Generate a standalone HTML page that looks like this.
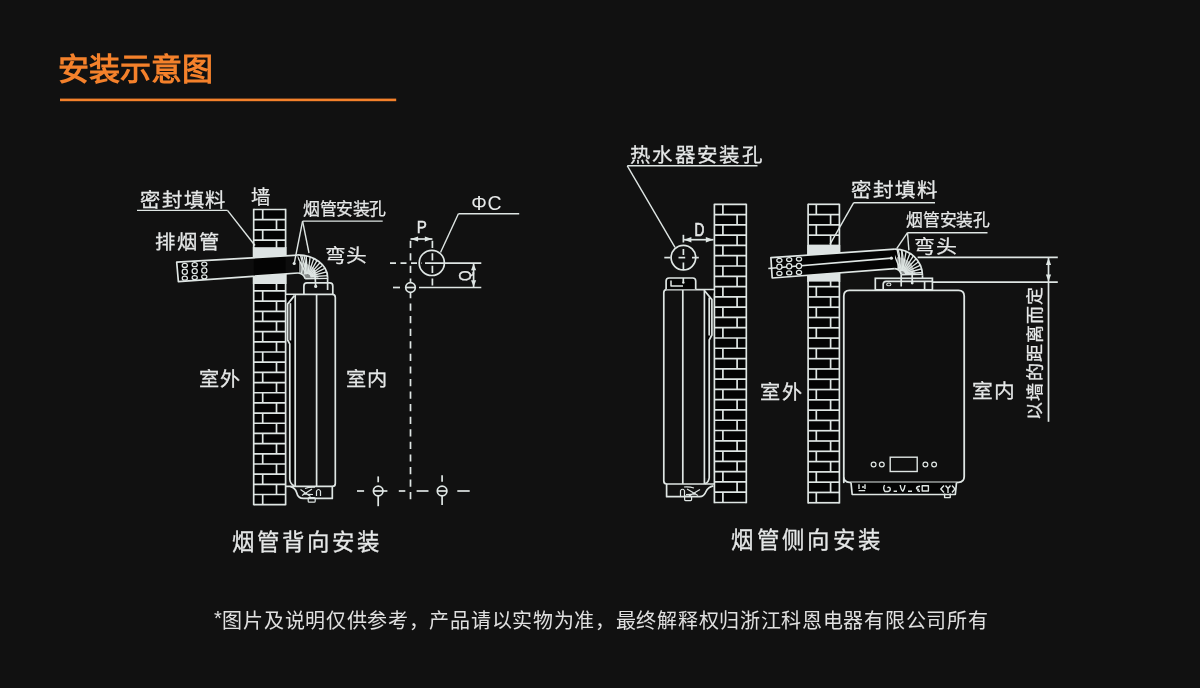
<!DOCTYPE html>
<html lang="zh-CN"><head><meta charset="utf-8">
<style>
html,body{margin:0;padding:0;background:#111111;}
body{width:1200px;height:688px;overflow:hidden;position:relative;will-change:transform;font-family:"Liberation Sans",sans-serif;}
.title{position:absolute;left:58px;top:50px;font-size:31px;font-weight:700;color:#f4812b;line-height:40px;white-space:nowrap;}
.foot{position:absolute;left:214px;top:607px;font-size:20px;color:#e0e0e0;line-height:28px;white-space:nowrap;letter-spacing:0.7px;}
svg{position:absolute;left:0;top:0;will-change:transform;}
svg text{font-family:"Liberation Sans",sans-serif;}
</style></head><body>
<div class="title">安装示意图</div>
<svg width="1200" height="688" viewBox="0 0 1200 688">
<rect x="60" y="98.6" width="336.2" height="2.6" fill="#f4812b"/>
<rect x="253.70" y="209.50" width="31.90" height="295.20" fill="#040404"/>
<line x1="253.70" y1="209.50" x2="285.60" y2="209.50" stroke="#dfe6e4" stroke-width="1.7" />
<line x1="253.70" y1="219.68" x2="285.60" y2="219.68" stroke="#dfe6e4" stroke-width="1.7" />
<line x1="253.70" y1="229.86" x2="285.60" y2="229.86" stroke="#dfe6e4" stroke-width="1.7" />
<line x1="253.70" y1="240.04" x2="285.60" y2="240.04" stroke="#dfe6e4" stroke-width="1.7" />
<line x1="253.70" y1="250.22" x2="285.60" y2="250.22" stroke="#dfe6e4" stroke-width="1.7" />
<line x1="253.70" y1="260.40" x2="285.60" y2="260.40" stroke="#dfe6e4" stroke-width="1.7" />
<line x1="253.70" y1="270.58" x2="285.60" y2="270.58" stroke="#dfe6e4" stroke-width="1.7" />
<line x1="253.70" y1="280.76" x2="285.60" y2="280.76" stroke="#dfe6e4" stroke-width="1.7" />
<line x1="253.70" y1="290.93" x2="285.60" y2="290.93" stroke="#dfe6e4" stroke-width="1.7" />
<line x1="253.70" y1="301.11" x2="285.60" y2="301.11" stroke="#dfe6e4" stroke-width="1.7" />
<line x1="253.70" y1="311.29" x2="285.60" y2="311.29" stroke="#dfe6e4" stroke-width="1.7" />
<line x1="253.70" y1="321.47" x2="285.60" y2="321.47" stroke="#dfe6e4" stroke-width="1.7" />
<line x1="253.70" y1="331.65" x2="285.60" y2="331.65" stroke="#dfe6e4" stroke-width="1.7" />
<line x1="253.70" y1="341.83" x2="285.60" y2="341.83" stroke="#dfe6e4" stroke-width="1.7" />
<line x1="253.70" y1="352.01" x2="285.60" y2="352.01" stroke="#dfe6e4" stroke-width="1.7" />
<line x1="253.70" y1="362.19" x2="285.60" y2="362.19" stroke="#dfe6e4" stroke-width="1.7" />
<line x1="253.70" y1="372.37" x2="285.60" y2="372.37" stroke="#dfe6e4" stroke-width="1.7" />
<line x1="253.70" y1="382.55" x2="285.60" y2="382.55" stroke="#dfe6e4" stroke-width="1.7" />
<line x1="253.70" y1="392.73" x2="285.60" y2="392.73" stroke="#dfe6e4" stroke-width="1.7" />
<line x1="253.70" y1="402.91" x2="285.60" y2="402.91" stroke="#dfe6e4" stroke-width="1.7" />
<line x1="253.70" y1="413.09" x2="285.60" y2="413.09" stroke="#dfe6e4" stroke-width="1.7" />
<line x1="253.70" y1="423.27" x2="285.60" y2="423.27" stroke="#dfe6e4" stroke-width="1.7" />
<line x1="253.70" y1="433.44" x2="285.60" y2="433.44" stroke="#dfe6e4" stroke-width="1.7" />
<line x1="253.70" y1="443.62" x2="285.60" y2="443.62" stroke="#dfe6e4" stroke-width="1.7" />
<line x1="253.70" y1="453.80" x2="285.60" y2="453.80" stroke="#dfe6e4" stroke-width="1.7" />
<line x1="253.70" y1="463.98" x2="285.60" y2="463.98" stroke="#dfe6e4" stroke-width="1.7" />
<line x1="253.70" y1="474.16" x2="285.60" y2="474.16" stroke="#dfe6e4" stroke-width="1.7" />
<line x1="253.70" y1="484.34" x2="285.60" y2="484.34" stroke="#dfe6e4" stroke-width="1.7" />
<line x1="253.70" y1="494.52" x2="285.60" y2="494.52" stroke="#dfe6e4" stroke-width="1.7" />
<line x1="253.70" y1="504.70" x2="285.60" y2="504.70" stroke="#dfe6e4" stroke-width="1.7" />
<line x1="262.70" y1="209.50" x2="262.70" y2="219.68" stroke="#dfe6e4" stroke-width="1.7" />
<line x1="276.50" y1="219.68" x2="276.50" y2="229.86" stroke="#dfe6e4" stroke-width="1.7" />
<line x1="262.70" y1="229.86" x2="262.70" y2="240.04" stroke="#dfe6e4" stroke-width="1.7" />
<line x1="276.50" y1="240.04" x2="276.50" y2="250.22" stroke="#dfe6e4" stroke-width="1.7" />
<line x1="262.70" y1="250.22" x2="262.70" y2="260.40" stroke="#dfe6e4" stroke-width="1.7" />
<line x1="276.50" y1="260.40" x2="276.50" y2="270.58" stroke="#dfe6e4" stroke-width="1.7" />
<line x1="262.70" y1="270.58" x2="262.70" y2="280.76" stroke="#dfe6e4" stroke-width="1.7" />
<line x1="276.50" y1="280.76" x2="276.50" y2="290.93" stroke="#dfe6e4" stroke-width="1.7" />
<line x1="262.70" y1="290.93" x2="262.70" y2="301.11" stroke="#dfe6e4" stroke-width="1.7" />
<line x1="276.50" y1="301.11" x2="276.50" y2="311.29" stroke="#dfe6e4" stroke-width="1.7" />
<line x1="262.70" y1="311.29" x2="262.70" y2="321.47" stroke="#dfe6e4" stroke-width="1.7" />
<line x1="276.50" y1="321.47" x2="276.50" y2="331.65" stroke="#dfe6e4" stroke-width="1.7" />
<line x1="262.70" y1="331.65" x2="262.70" y2="341.83" stroke="#dfe6e4" stroke-width="1.7" />
<line x1="276.50" y1="341.83" x2="276.50" y2="352.01" stroke="#dfe6e4" stroke-width="1.7" />
<line x1="262.70" y1="352.01" x2="262.70" y2="362.19" stroke="#dfe6e4" stroke-width="1.7" />
<line x1="276.50" y1="362.19" x2="276.50" y2="372.37" stroke="#dfe6e4" stroke-width="1.7" />
<line x1="262.70" y1="372.37" x2="262.70" y2="382.55" stroke="#dfe6e4" stroke-width="1.7" />
<line x1="276.50" y1="382.55" x2="276.50" y2="392.73" stroke="#dfe6e4" stroke-width="1.7" />
<line x1="262.70" y1="392.73" x2="262.70" y2="402.91" stroke="#dfe6e4" stroke-width="1.7" />
<line x1="276.50" y1="402.91" x2="276.50" y2="413.09" stroke="#dfe6e4" stroke-width="1.7" />
<line x1="262.70" y1="413.09" x2="262.70" y2="423.27" stroke="#dfe6e4" stroke-width="1.7" />
<line x1="276.50" y1="423.27" x2="276.50" y2="433.44" stroke="#dfe6e4" stroke-width="1.7" />
<line x1="262.70" y1="433.44" x2="262.70" y2="443.62" stroke="#dfe6e4" stroke-width="1.7" />
<line x1="276.50" y1="443.62" x2="276.50" y2="453.80" stroke="#dfe6e4" stroke-width="1.7" />
<line x1="262.70" y1="453.80" x2="262.70" y2="463.98" stroke="#dfe6e4" stroke-width="1.7" />
<line x1="276.50" y1="463.98" x2="276.50" y2="474.16" stroke="#dfe6e4" stroke-width="1.7" />
<line x1="262.70" y1="474.16" x2="262.70" y2="484.34" stroke="#dfe6e4" stroke-width="1.7" />
<line x1="276.50" y1="484.34" x2="276.50" y2="494.52" stroke="#dfe6e4" stroke-width="1.7" />
<line x1="262.70" y1="494.52" x2="262.70" y2="504.70" stroke="#dfe6e4" stroke-width="1.7" />
<line x1="253.70" y1="208.85" x2="253.70" y2="505.35" stroke="#dfe6e4" stroke-width="1.7" />
<line x1="285.60" y1="208.85" x2="285.60" y2="505.35" stroke="#dfe6e4" stroke-width="1.7" />
<rect x="253.7" y="247.2" width="31.9" height="36.8" fill="#dde3e3"/>
<line x1="253.70" y1="247.00" x2="253.70" y2="284.00" stroke="#dfe6e4" stroke-width="1.7" />
<line x1="285.60" y1="247.00" x2="285.60" y2="284.00" stroke="#dfe6e4" stroke-width="1.7" />
<clipPath id="pL"><path d="M176.70,262.20 L298.00,255.20 L298.00,273.00 L178.40,281.70 Z"/></clipPath>
<path d="M176.70,262.20 L298.00,255.20 L298.00,273.00 L178.40,281.70 Z" fill="#0d0d0d"/>
<g clip-path="url(#pL)">
<rect x="170" y="200" width="38" height="120" fill="#040404"/>
<rect x="253.7" y="200" width="31.900000000000034" height="120" fill="#040404"/>
</g>
<path d="M298.00,255.20 L176.70,262.20 L178.40,281.70 L298.00,273.00" stroke="#dfe6e4" stroke-width="1.7" fill="none" stroke-linejoin="round" />
<ellipse cx="184.80" cy="265.40" rx="2.60" ry="2.00" stroke="#dfe6e4" stroke-width="1.25" fill="#040404"/>
<ellipse cx="194.70" cy="264.70" rx="2.60" ry="2.00" stroke="#dfe6e4" stroke-width="1.25" fill="#040404"/>
<ellipse cx="204.30" cy="264.00" rx="2.60" ry="2.00" stroke="#dfe6e4" stroke-width="1.25" fill="#040404"/>
<ellipse cx="184.80" cy="271.80" rx="2.60" ry="2.60" stroke="#dfe6e4" stroke-width="1.25" fill="#040404"/>
<ellipse cx="194.70" cy="271.10" rx="2.60" ry="2.60" stroke="#dfe6e4" stroke-width="1.25" fill="#040404"/>
<ellipse cx="204.30" cy="270.40" rx="2.60" ry="2.60" stroke="#dfe6e4" stroke-width="1.25" fill="#040404"/>
<ellipse cx="184.80" cy="278.20" rx="2.60" ry="2.00" stroke="#dfe6e4" stroke-width="1.25" fill="#040404"/>
<ellipse cx="194.70" cy="277.50" rx="2.60" ry="2.00" stroke="#dfe6e4" stroke-width="1.25" fill="#040404"/>
<ellipse cx="204.30" cy="276.80" rx="2.60" ry="2.00" stroke="#dfe6e4" stroke-width="1.25" fill="#040404"/>
<clipPath id="elL"><path d="M297.5,254.9 A30.1,22.6 0 0 1 327.6,277.5 L327.6,278.8 L305.2,278.8 C304.2,275.5 301,273.2 298,273.0 Z"/></clipPath>
<path d="M297.5,254.9 A30.1,22.6 0 0 1 327.6,277.5 L327.6,278.8 L305.2,278.8 C304.2,275.5 301,273.2 298,273.0 Z" fill="#040404"/>
<g clip-path="url(#elL)">
<path d="M299,262 Q306,262 314,268 L319,278.8 L305,278.8 Q302,274 299,273 Z" fill="#dfe6e4" opacity="0.6"/>
<line x1="306.18" y1="274.30" x2="287.77" y2="236.55" stroke="#dfe6e4" stroke-width="1.35" />
<line x1="306.73" y1="274.10" x2="296.00" y2="233.49" stroke="#dfe6e4" stroke-width="1.35" />
<line x1="307.31" y1="274.01" x2="304.67" y2="232.09" stroke="#dfe6e4" stroke-width="1.35" />
<line x1="307.90" y1="274.03" x2="313.45" y2="232.40" stroke="#dfe6e4" stroke-width="1.35" />
<line x1="308.47" y1="274.16" x2="322.00" y2="234.40" stroke="#dfe6e4" stroke-width="1.35" />
<line x1="309.00" y1="274.40" x2="330.00" y2="238.03" stroke="#dfe6e4" stroke-width="1.35" />
<line x1="309.48" y1="274.74" x2="337.14" y2="243.14" stroke="#dfe6e4" stroke-width="1.35" />
<line x1="309.88" y1="275.17" x2="343.15" y2="249.54" stroke="#dfe6e4" stroke-width="1.35" />
<line x1="310.19" y1="275.67" x2="347.81" y2="256.99" stroke="#dfe6e4" stroke-width="1.35" />
<line x1="310.40" y1="276.21" x2="350.93" y2="265.20" stroke="#dfe6e4" stroke-width="1.35" />
<line x1="310.49" y1="276.79" x2="352.39" y2="273.86" stroke="#dfe6e4" stroke-width="1.35" />
<path d="M300.5,255.2 Q303.5,264 301.5,273.3" stroke="#dfe6e4" stroke-width="1.3" fill="none" stroke-linejoin="round" />
<path d="M304,255.8 Q307,265 304.5,274.5" stroke="#dfe6e4" stroke-width="1.3" fill="none" stroke-linejoin="round" />
</g>
<path d="M297.5,254.9 A30.1,22.6 0 0 1 327.6,277.5" stroke="#dfe6e4" stroke-width="1.7" fill="none" stroke-linejoin="round" />
<line x1="305.20" y1="278.80" x2="327.60" y2="278.40" stroke="#dfe6e4" stroke-width="1.4" />
<path d="M298,273.0 C301,273.2 304.2,275.5 305.2,278.8" stroke="#dfe6e4" stroke-width="1.7" fill="none" stroke-linejoin="round" />
<path d="M303.9,294.6 L303.9,285.9 Q303.9,282.9 306.9,282.9 L329.8,282.9 Q332.8,282.9 332.8,285.9 L332.8,294.6" stroke="#dfe6e4" stroke-width="1.7" fill="none" stroke-linejoin="round" />
<line x1="327.60" y1="277.30" x2="327.60" y2="290.00" stroke="#dfe6e4" stroke-width="1.7" />
<path d="M314,270 Q315.7,279 315.7,286.4" stroke="#dfe6e4" stroke-width="1.7" fill="none" stroke-linejoin="round" />
<circle cx="315.70" cy="286.40" r="1.6" fill="#dfe6e4"/>
<rect x="290.4" y="297" width="4.4" height="183" fill="#040404"/>
<path d="M285.6,294.4 L332.3,294.4 Q335.3,294.4 335.3,297.4 L335.3,483.4 Q335.3,486.4 332.3,486.4 L285.6,486.4" stroke="#dfe6e4" stroke-width="1.7" fill="none" stroke-linejoin="round" />
<line x1="295.20" y1="294.40" x2="295.20" y2="486.40" stroke="#dfe6e4" stroke-width="1.7" />
<line x1="316.60" y1="294.40" x2="316.60" y2="486.40" stroke="#dfe6e4" stroke-width="1.7" />
<path d="M286.2,295.2 L294.4,295.2 L287.6,304" fill="#040404"/>
<path d="M294.4,295.6 L287.6,304.1 L287.6,340 L289.8,344 L289.8,479.5 Q290.2,484.2 294.4,485.8" stroke="#dfe6e4" stroke-width="1.7" fill="none" stroke-linejoin="round" />
<line x1="290.40" y1="303.20" x2="290.40" y2="340.50" stroke="#dfe6e4" stroke-width="1.7" />
<path d="M290.5,486.6 Q295.5,488 296.6,492.5 Q298,498.4 303.5,498.4 L332.3,498.4 L332.3,486.4" stroke="#dfe6e4" stroke-width="1.7" fill="none" stroke-linejoin="round" />
<path d="M300.5,489.5 L310.5,496.5 M312,489 L302,495.5 M305,488.5 Q310,486.6 315,487.2 M303,494 L313,494.5" stroke="#dfe6e4" stroke-width="1.2" fill="none" stroke-linejoin="round" />
<path d="M316.5,496 L316.5,491 Q318.5,488 320.5,491 L320.5,496" stroke="#dfe6e4" stroke-width="1.2" fill="none" stroke-linejoin="round" />
<rect x="308.20" y="497.60" width="7.00" height="4.60" rx="1" stroke="#dfe6e4" stroke-width="1.2" fill="none" />
<line x1="137.00" y1="210.40" x2="227.50" y2="210.40" stroke="#dfe6e4" stroke-width="1.4" />
<line x1="227.50" y1="210.40" x2="255.00" y2="245.50" stroke="#dfe6e4" stroke-width="1.4" />
<line x1="302.60" y1="221.10" x2="382.70" y2="221.10" stroke="#dfe6e4" stroke-width="1.4" />
<line x1="302.60" y1="221.10" x2="294.20" y2="263.50" stroke="#dfe6e4" stroke-width="1.4" />
<circle cx="294.20" cy="263.50" r="1.6" fill="#dfe6e4"/>
<line x1="302.60" y1="221.10" x2="309.00" y2="253.00" stroke="#dfe6e4" stroke-width="1.4" />
<line x1="410.50" y1="240.70" x2="410.50" y2="500.30" stroke="#dfe6e4" stroke-width="1.7" stroke-dasharray="7.2 5.37"/>
<rect x="406" y="282.5" width="9" height="10" fill="#111"/>
<line x1="432.40" y1="240.70" x2="432.40" y2="286.00" stroke="#dfe6e4" stroke-width="1.7" stroke-dasharray="7.2 5.37"/>
<line x1="410.50" y1="239.00" x2="432.40" y2="239.00" stroke="#dfe6e4" stroke-width="1.7" />
<path d="M410.60,239.00 L418.10,236.50 L418.10,241.50 Z" fill="#dfe6e4"/>
<path d="M432.30,239.00 L424.80,241.50 L424.80,236.50 Z" fill="#dfe6e4"/>
<circle cx="431.80" cy="262.90" r="12.60" stroke="#dfe6e4" stroke-width="1.7" fill="none"/>
<line x1="425.00" y1="263.10" x2="481.30" y2="263.10" stroke="#dfe6e4" stroke-width="1.7" />
<line x1="390.00" y1="263.10" x2="422.00" y2="263.10" stroke="#dfe6e4" stroke-width="1.7" stroke-dasharray="6 4.5"/>
<line x1="419.00" y1="287.50" x2="481.30" y2="287.50" stroke="#dfe6e4" stroke-width="1.7" />
<line x1="393.00" y1="287.50" x2="400.00" y2="287.50" stroke="#dfe6e4" stroke-width="1.7" />
<circle cx="410.50" cy="287.50" r="4.80" stroke="#dfe6e4" stroke-width="1.7" fill="none"/>
<line x1="405.70" y1="287.50" x2="415.30" y2="287.50" stroke="#dfe6e4" stroke-width="1.7" />
<line x1="473.60" y1="263.50" x2="473.60" y2="287.00" stroke="#dfe6e4" stroke-width="1.7" />
<path d="M473.60,263.80 L476.20,270.30 L471.00,270.30 Z" fill="#dfe6e4"/>
<path d="M473.60,286.80 L471.00,280.30 L476.20,280.30 Z" fill="#dfe6e4"/>
<line x1="458.40" y1="213.70" x2="519.20" y2="213.70" stroke="#dfe6e4" stroke-width="1.4" />
<line x1="458.40" y1="213.70" x2="440.50" y2="252.50" stroke="#dfe6e4" stroke-width="1.4" />
<line x1="357.00" y1="491.00" x2="364.10" y2="491.00" stroke="#dfe6e4" stroke-width="1.7" />
<line x1="374.00" y1="491.00" x2="387.40" y2="491.00" stroke="#dfe6e4" stroke-width="1.7" />
<line x1="398.80" y1="491.00" x2="405.30" y2="491.00" stroke="#dfe6e4" stroke-width="1.7" />
<line x1="416.60" y1="491.00" x2="428.50" y2="491.00" stroke="#dfe6e4" stroke-width="1.7" />
<line x1="438.00" y1="491.00" x2="446.00" y2="491.00" stroke="#dfe6e4" stroke-width="1.7" />
<line x1="457.30" y1="491.00" x2="469.70" y2="491.00" stroke="#dfe6e4" stroke-width="1.7" />
<circle cx="378.20" cy="491.00" r="4.80" stroke="#dfe6e4" stroke-width="1.7" fill="none"/>
<circle cx="442.10" cy="491.00" r="4.80" stroke="#dfe6e4" stroke-width="1.7" fill="none"/>
<line x1="378.20" y1="476.40" x2="378.20" y2="482.30" stroke="#dfe6e4" stroke-width="1.7" />
<line x1="378.20" y1="495.80" x2="378.20" y2="506.20" stroke="#dfe6e4" stroke-width="1.7" />
<line x1="442.10" y1="475.30" x2="442.10" y2="481.80" stroke="#dfe6e4" stroke-width="1.7" />
<line x1="442.10" y1="495.80" x2="442.10" y2="505.00" stroke="#dfe6e4" stroke-width="1.7" />
<rect x="714.40" y="204.30" width="31.90" height="298.20" fill="#040404"/>
<line x1="714.40" y1="204.30" x2="746.30" y2="204.30" stroke="#dfe6e4" stroke-width="1.7" />
<line x1="714.40" y1="214.58" x2="746.30" y2="214.58" stroke="#dfe6e4" stroke-width="1.7" />
<line x1="714.40" y1="224.87" x2="746.30" y2="224.87" stroke="#dfe6e4" stroke-width="1.7" />
<line x1="714.40" y1="235.15" x2="746.30" y2="235.15" stroke="#dfe6e4" stroke-width="1.7" />
<line x1="714.40" y1="245.43" x2="746.30" y2="245.43" stroke="#dfe6e4" stroke-width="1.7" />
<line x1="714.40" y1="255.71" x2="746.30" y2="255.71" stroke="#dfe6e4" stroke-width="1.7" />
<line x1="714.40" y1="266.00" x2="746.30" y2="266.00" stroke="#dfe6e4" stroke-width="1.7" />
<line x1="714.40" y1="276.28" x2="746.30" y2="276.28" stroke="#dfe6e4" stroke-width="1.7" />
<line x1="714.40" y1="286.56" x2="746.30" y2="286.56" stroke="#dfe6e4" stroke-width="1.7" />
<line x1="714.40" y1="296.84" x2="746.30" y2="296.84" stroke="#dfe6e4" stroke-width="1.7" />
<line x1="714.40" y1="307.13" x2="746.30" y2="307.13" stroke="#dfe6e4" stroke-width="1.7" />
<line x1="714.40" y1="317.41" x2="746.30" y2="317.41" stroke="#dfe6e4" stroke-width="1.7" />
<line x1="714.40" y1="327.69" x2="746.30" y2="327.69" stroke="#dfe6e4" stroke-width="1.7" />
<line x1="714.40" y1="337.98" x2="746.30" y2="337.98" stroke="#dfe6e4" stroke-width="1.7" />
<line x1="714.40" y1="348.26" x2="746.30" y2="348.26" stroke="#dfe6e4" stroke-width="1.7" />
<line x1="714.40" y1="358.54" x2="746.30" y2="358.54" stroke="#dfe6e4" stroke-width="1.7" />
<line x1="714.40" y1="368.82" x2="746.30" y2="368.82" stroke="#dfe6e4" stroke-width="1.7" />
<line x1="714.40" y1="379.11" x2="746.30" y2="379.11" stroke="#dfe6e4" stroke-width="1.7" />
<line x1="714.40" y1="389.39" x2="746.30" y2="389.39" stroke="#dfe6e4" stroke-width="1.7" />
<line x1="714.40" y1="399.67" x2="746.30" y2="399.67" stroke="#dfe6e4" stroke-width="1.7" />
<line x1="714.40" y1="409.96" x2="746.30" y2="409.96" stroke="#dfe6e4" stroke-width="1.7" />
<line x1="714.40" y1="420.24" x2="746.30" y2="420.24" stroke="#dfe6e4" stroke-width="1.7" />
<line x1="714.40" y1="430.52" x2="746.30" y2="430.52" stroke="#dfe6e4" stroke-width="1.7" />
<line x1="714.40" y1="440.80" x2="746.30" y2="440.80" stroke="#dfe6e4" stroke-width="1.7" />
<line x1="714.40" y1="451.09" x2="746.30" y2="451.09" stroke="#dfe6e4" stroke-width="1.7" />
<line x1="714.40" y1="461.37" x2="746.30" y2="461.37" stroke="#dfe6e4" stroke-width="1.7" />
<line x1="714.40" y1="471.65" x2="746.30" y2="471.65" stroke="#dfe6e4" stroke-width="1.7" />
<line x1="714.40" y1="481.93" x2="746.30" y2="481.93" stroke="#dfe6e4" stroke-width="1.7" />
<line x1="714.40" y1="492.22" x2="746.30" y2="492.22" stroke="#dfe6e4" stroke-width="1.7" />
<line x1="714.40" y1="502.50" x2="746.30" y2="502.50" stroke="#dfe6e4" stroke-width="1.7" />
<line x1="722.90" y1="204.30" x2="722.90" y2="214.58" stroke="#dfe6e4" stroke-width="1.7" />
<line x1="737.10" y1="214.58" x2="737.10" y2="224.87" stroke="#dfe6e4" stroke-width="1.7" />
<line x1="722.90" y1="224.87" x2="722.90" y2="235.15" stroke="#dfe6e4" stroke-width="1.7" />
<line x1="737.10" y1="235.15" x2="737.10" y2="245.43" stroke="#dfe6e4" stroke-width="1.7" />
<line x1="722.90" y1="245.43" x2="722.90" y2="255.71" stroke="#dfe6e4" stroke-width="1.7" />
<line x1="737.10" y1="255.71" x2="737.10" y2="266.00" stroke="#dfe6e4" stroke-width="1.7" />
<line x1="722.90" y1="266.00" x2="722.90" y2="276.28" stroke="#dfe6e4" stroke-width="1.7" />
<line x1="737.10" y1="276.28" x2="737.10" y2="286.56" stroke="#dfe6e4" stroke-width="1.7" />
<line x1="722.90" y1="286.56" x2="722.90" y2="296.84" stroke="#dfe6e4" stroke-width="1.7" />
<line x1="737.10" y1="296.84" x2="737.10" y2="307.13" stroke="#dfe6e4" stroke-width="1.7" />
<line x1="722.90" y1="307.13" x2="722.90" y2="317.41" stroke="#dfe6e4" stroke-width="1.7" />
<line x1="737.10" y1="317.41" x2="737.10" y2="327.69" stroke="#dfe6e4" stroke-width="1.7" />
<line x1="722.90" y1="327.69" x2="722.90" y2="337.98" stroke="#dfe6e4" stroke-width="1.7" />
<line x1="737.10" y1="337.98" x2="737.10" y2="348.26" stroke="#dfe6e4" stroke-width="1.7" />
<line x1="722.90" y1="348.26" x2="722.90" y2="358.54" stroke="#dfe6e4" stroke-width="1.7" />
<line x1="737.10" y1="358.54" x2="737.10" y2="368.82" stroke="#dfe6e4" stroke-width="1.7" />
<line x1="722.90" y1="368.82" x2="722.90" y2="379.11" stroke="#dfe6e4" stroke-width="1.7" />
<line x1="737.10" y1="379.11" x2="737.10" y2="389.39" stroke="#dfe6e4" stroke-width="1.7" />
<line x1="722.90" y1="389.39" x2="722.90" y2="399.67" stroke="#dfe6e4" stroke-width="1.7" />
<line x1="737.10" y1="399.67" x2="737.10" y2="409.96" stroke="#dfe6e4" stroke-width="1.7" />
<line x1="722.90" y1="409.96" x2="722.90" y2="420.24" stroke="#dfe6e4" stroke-width="1.7" />
<line x1="737.10" y1="420.24" x2="737.10" y2="430.52" stroke="#dfe6e4" stroke-width="1.7" />
<line x1="722.90" y1="430.52" x2="722.90" y2="440.80" stroke="#dfe6e4" stroke-width="1.7" />
<line x1="737.10" y1="440.80" x2="737.10" y2="451.09" stroke="#dfe6e4" stroke-width="1.7" />
<line x1="722.90" y1="451.09" x2="722.90" y2="461.37" stroke="#dfe6e4" stroke-width="1.7" />
<line x1="737.10" y1="461.37" x2="737.10" y2="471.65" stroke="#dfe6e4" stroke-width="1.7" />
<line x1="722.90" y1="471.65" x2="722.90" y2="481.93" stroke="#dfe6e4" stroke-width="1.7" />
<line x1="737.10" y1="481.93" x2="737.10" y2="492.22" stroke="#dfe6e4" stroke-width="1.7" />
<line x1="722.90" y1="492.22" x2="722.90" y2="502.50" stroke="#dfe6e4" stroke-width="1.7" />
<line x1="714.40" y1="203.65" x2="714.40" y2="503.15" stroke="#dfe6e4" stroke-width="1.7" />
<line x1="746.30" y1="203.65" x2="746.30" y2="503.15" stroke="#dfe6e4" stroke-width="1.7" />
<rect x="808.10" y="204.30" width="31.30" height="298.45" fill="#040404"/>
<line x1="808.10" y1="204.30" x2="839.40" y2="204.30" stroke="#dfe6e4" stroke-width="1.7" />
<line x1="808.10" y1="214.59" x2="839.40" y2="214.59" stroke="#dfe6e4" stroke-width="1.7" />
<line x1="808.10" y1="224.88" x2="839.40" y2="224.88" stroke="#dfe6e4" stroke-width="1.7" />
<line x1="808.10" y1="235.17" x2="839.40" y2="235.17" stroke="#dfe6e4" stroke-width="1.7" />
<line x1="808.10" y1="245.47" x2="839.40" y2="245.47" stroke="#dfe6e4" stroke-width="1.7" />
<line x1="808.10" y1="255.76" x2="839.40" y2="255.76" stroke="#dfe6e4" stroke-width="1.7" />
<line x1="808.10" y1="266.05" x2="839.40" y2="266.05" stroke="#dfe6e4" stroke-width="1.7" />
<line x1="808.10" y1="276.34" x2="839.40" y2="276.34" stroke="#dfe6e4" stroke-width="1.7" />
<line x1="808.10" y1="286.63" x2="839.40" y2="286.63" stroke="#dfe6e4" stroke-width="1.7" />
<line x1="808.10" y1="296.92" x2="839.40" y2="296.92" stroke="#dfe6e4" stroke-width="1.7" />
<line x1="808.10" y1="307.21" x2="839.40" y2="307.21" stroke="#dfe6e4" stroke-width="1.7" />
<line x1="808.10" y1="317.51" x2="839.40" y2="317.51" stroke="#dfe6e4" stroke-width="1.7" />
<line x1="808.10" y1="327.80" x2="839.40" y2="327.80" stroke="#dfe6e4" stroke-width="1.7" />
<line x1="808.10" y1="338.09" x2="839.40" y2="338.09" stroke="#dfe6e4" stroke-width="1.7" />
<line x1="808.10" y1="348.38" x2="839.40" y2="348.38" stroke="#dfe6e4" stroke-width="1.7" />
<line x1="808.10" y1="358.67" x2="839.40" y2="358.67" stroke="#dfe6e4" stroke-width="1.7" />
<line x1="808.10" y1="368.96" x2="839.40" y2="368.96" stroke="#dfe6e4" stroke-width="1.7" />
<line x1="808.10" y1="379.25" x2="839.40" y2="379.25" stroke="#dfe6e4" stroke-width="1.7" />
<line x1="808.10" y1="389.54" x2="839.40" y2="389.54" stroke="#dfe6e4" stroke-width="1.7" />
<line x1="808.10" y1="399.84" x2="839.40" y2="399.84" stroke="#dfe6e4" stroke-width="1.7" />
<line x1="808.10" y1="410.13" x2="839.40" y2="410.13" stroke="#dfe6e4" stroke-width="1.7" />
<line x1="808.10" y1="420.42" x2="839.40" y2="420.42" stroke="#dfe6e4" stroke-width="1.7" />
<line x1="808.10" y1="430.71" x2="839.40" y2="430.71" stroke="#dfe6e4" stroke-width="1.7" />
<line x1="808.10" y1="441.00" x2="839.40" y2="441.00" stroke="#dfe6e4" stroke-width="1.7" />
<line x1="808.10" y1="451.29" x2="839.40" y2="451.29" stroke="#dfe6e4" stroke-width="1.7" />
<line x1="808.10" y1="461.58" x2="839.40" y2="461.58" stroke="#dfe6e4" stroke-width="1.7" />
<line x1="808.10" y1="471.88" x2="839.40" y2="471.88" stroke="#dfe6e4" stroke-width="1.7" />
<line x1="808.10" y1="482.17" x2="839.40" y2="482.17" stroke="#dfe6e4" stroke-width="1.7" />
<line x1="808.10" y1="492.46" x2="839.40" y2="492.46" stroke="#dfe6e4" stroke-width="1.7" />
<line x1="808.10" y1="502.75" x2="839.40" y2="502.75" stroke="#dfe6e4" stroke-width="1.7" />
<line x1="816.30" y1="204.30" x2="816.30" y2="214.59" stroke="#dfe6e4" stroke-width="1.7" />
<line x1="830.60" y1="214.59" x2="830.60" y2="224.88" stroke="#dfe6e4" stroke-width="1.7" />
<line x1="816.30" y1="224.88" x2="816.30" y2="235.17" stroke="#dfe6e4" stroke-width="1.7" />
<line x1="830.60" y1="235.17" x2="830.60" y2="245.47" stroke="#dfe6e4" stroke-width="1.7" />
<line x1="816.30" y1="245.47" x2="816.30" y2="255.76" stroke="#dfe6e4" stroke-width="1.7" />
<line x1="830.60" y1="255.76" x2="830.60" y2="266.05" stroke="#dfe6e4" stroke-width="1.7" />
<line x1="816.30" y1="266.05" x2="816.30" y2="276.34" stroke="#dfe6e4" stroke-width="1.7" />
<line x1="830.60" y1="276.34" x2="830.60" y2="286.63" stroke="#dfe6e4" stroke-width="1.7" />
<line x1="816.30" y1="286.63" x2="816.30" y2="296.92" stroke="#dfe6e4" stroke-width="1.7" />
<line x1="830.60" y1="296.92" x2="830.60" y2="307.21" stroke="#dfe6e4" stroke-width="1.7" />
<line x1="816.30" y1="307.21" x2="816.30" y2="317.51" stroke="#dfe6e4" stroke-width="1.7" />
<line x1="830.60" y1="317.51" x2="830.60" y2="327.80" stroke="#dfe6e4" stroke-width="1.7" />
<line x1="816.30" y1="327.80" x2="816.30" y2="338.09" stroke="#dfe6e4" stroke-width="1.7" />
<line x1="830.60" y1="338.09" x2="830.60" y2="348.38" stroke="#dfe6e4" stroke-width="1.7" />
<line x1="816.30" y1="348.38" x2="816.30" y2="358.67" stroke="#dfe6e4" stroke-width="1.7" />
<line x1="830.60" y1="358.67" x2="830.60" y2="368.96" stroke="#dfe6e4" stroke-width="1.7" />
<line x1="816.30" y1="368.96" x2="816.30" y2="379.25" stroke="#dfe6e4" stroke-width="1.7" />
<line x1="830.60" y1="379.25" x2="830.60" y2="389.54" stroke="#dfe6e4" stroke-width="1.7" />
<line x1="816.30" y1="389.54" x2="816.30" y2="399.84" stroke="#dfe6e4" stroke-width="1.7" />
<line x1="830.60" y1="399.84" x2="830.60" y2="410.13" stroke="#dfe6e4" stroke-width="1.7" />
<line x1="816.30" y1="410.13" x2="816.30" y2="420.42" stroke="#dfe6e4" stroke-width="1.7" />
<line x1="830.60" y1="420.42" x2="830.60" y2="430.71" stroke="#dfe6e4" stroke-width="1.7" />
<line x1="816.30" y1="430.71" x2="816.30" y2="441.00" stroke="#dfe6e4" stroke-width="1.7" />
<line x1="830.60" y1="441.00" x2="830.60" y2="451.29" stroke="#dfe6e4" stroke-width="1.7" />
<line x1="816.30" y1="451.29" x2="816.30" y2="461.58" stroke="#dfe6e4" stroke-width="1.7" />
<line x1="830.60" y1="461.58" x2="830.60" y2="471.88" stroke="#dfe6e4" stroke-width="1.7" />
<line x1="816.30" y1="471.88" x2="816.30" y2="482.17" stroke="#dfe6e4" stroke-width="1.7" />
<line x1="830.60" y1="482.17" x2="830.60" y2="492.46" stroke="#dfe6e4" stroke-width="1.7" />
<line x1="816.30" y1="492.46" x2="816.30" y2="502.75" stroke="#dfe6e4" stroke-width="1.7" />
<line x1="808.10" y1="203.65" x2="808.10" y2="503.40" stroke="#dfe6e4" stroke-width="1.7" />
<line x1="839.40" y1="203.65" x2="839.40" y2="503.40" stroke="#dfe6e4" stroke-width="1.7" />
<rect x="808.1" y="245.2" width="31.3" height="36.4" fill="#dde3e3"/>
<line x1="808.10" y1="245.00" x2="808.10" y2="282.00" stroke="#dfe6e4" stroke-width="1.7" />
<line x1="839.40" y1="245.00" x2="839.40" y2="282.00" stroke="#dfe6e4" stroke-width="1.7" />
<rect x="704.6" y="292" width="4.5" height="186" fill="#040404"/>
<path d="M714.4,289.6 L666.8,289.6 Q663.8,289.6 663.8,292.6 L663.8,481 Q663.8,484 666.8,484 L714.4,484" stroke="#dfe6e4" stroke-width="1.7" fill="none" stroke-linejoin="round" />
<line x1="704.40" y1="289.60" x2="704.40" y2="484.00" stroke="#dfe6e4" stroke-width="1.7" />
<line x1="682.80" y1="289.60" x2="682.80" y2="484.00" stroke="#dfe6e4" stroke-width="1.7" />
<path d="M713.8,290.4 L705,290.4 L711.9,299.6" fill="#040404"/>
<path d="M704.6,290.8 L711.9,299.6 L711.9,335 L709.2,340 L709.2,477.8 Q708.8,482.5 705,483.6" stroke="#dfe6e4" stroke-width="1.7" fill="none" stroke-linejoin="round" />
<line x1="709.20" y1="297.50" x2="709.20" y2="335.50" stroke="#dfe6e4" stroke-width="1.7" />
<path d="M713.4,485.8 Q708,487 706,491.5 Q704,496.7 699.7,496.7 L666.6,496.7 L666.6,484" stroke="#dfe6e4" stroke-width="1.7" fill="none" stroke-linejoin="round" />
<path d="M700,489.5 L689,496 M687,489 L698,495.5 M694,488 Q689,486.4 684,487 M696,494 L686,494.5" stroke="#dfe6e4" stroke-width="1.2" fill="none" stroke-linejoin="round" />
<path d="M680.5,496 L680.5,490.5 Q682.5,488 684.5,490.5 L684.5,496" stroke="#dfe6e4" stroke-width="1.2" fill="none" stroke-linejoin="round" />
<rect x="684.60" y="496.20" width="7.00" height="4.40" rx="1" stroke="#dfe6e4" stroke-width="1.2" fill="none" />
<path d="M666.1,289.3 L666.1,281 Q666.1,278 669.1,278 L692.7,278 Q695.7,278 695.7,281 L695.7,289.3" stroke="#dfe6e4" stroke-width="1.7" fill="#040404" stroke-linejoin="round" />
<path d="M671,280.5 L671,286 L683,286" stroke="#dfe6e4" stroke-width="1.5" fill="none" stroke-linejoin="round" />
<line x1="683.30" y1="278.00" x2="683.30" y2="282.50" stroke="#dfe6e4" stroke-width="1.7" />
<circle cx="683.30" cy="282.60" r="1.2" fill="#dfe6e4"/>
<circle cx="683.40" cy="257.60" r="12.30" stroke="#dfe6e4" stroke-width="1.7" fill="none"/>
<line x1="664.30" y1="257.60" x2="670.40" y2="257.60" stroke="#dfe6e4" stroke-width="1.7" />
<line x1="678.50" y1="257.60" x2="685.20" y2="257.60" stroke="#dfe6e4" stroke-width="1.7" />
<line x1="692.00" y1="257.60" x2="698.80" y2="257.60" stroke="#dfe6e4" stroke-width="1.7" />
<line x1="683.40" y1="249.00" x2="683.40" y2="255.00" stroke="#dfe6e4" stroke-width="1.7" />
<line x1="683.40" y1="262.50" x2="683.40" y2="270.00" stroke="#dfe6e4" stroke-width="1.7" />
<line x1="683.40" y1="234.80" x2="683.40" y2="242.50" stroke="#dfe6e4" stroke-width="1.7" />
<line x1="683.40" y1="239.70" x2="713.50" y2="239.70" stroke="#dfe6e4" stroke-width="1.7" />
<path d="M683.90,239.70 L691.40,237.00 L691.40,242.40 Z" fill="#dfe6e4"/>
<path d="M713.30,239.70 L705.80,242.40 L705.80,237.00 Z" fill="#dfe6e4"/>
<line x1="627.30" y1="165.80" x2="757.50" y2="165.80" stroke="#dfe6e4" stroke-width="1.4" />
<line x1="627.30" y1="165.80" x2="675.00" y2="247.30" stroke="#dfe6e4" stroke-width="1.4" />
<path d="M770.90,257.70 L894.90,249.10 L894.90,268.70 L772.20,278.00 Z" stroke="#dfe6e4" stroke-width="0" fill="#040404" stroke-linejoin="round" />
<path d="M894.90,249.10 L770.90,257.70 L772.20,278.00 L894.90,268.70" stroke="#dfe6e4" stroke-width="1.7" fill="none" stroke-linejoin="round" />
<line x1="768.30" y1="268.50" x2="891.40" y2="258.20" stroke="#dfe6e4" stroke-width="1.7" />
<ellipse cx="779.40" cy="260.30" rx="2.60" ry="2.00" stroke="#dfe6e4" stroke-width="1.25" fill="#040404"/>
<ellipse cx="789.20" cy="259.60" rx="2.60" ry="2.00" stroke="#dfe6e4" stroke-width="1.25" fill="#040404"/>
<ellipse cx="799.00" cy="259.00" rx="2.60" ry="2.00" stroke="#dfe6e4" stroke-width="1.25" fill="#040404"/>
<ellipse cx="779.40" cy="266.80" rx="2.60" ry="2.60" stroke="#dfe6e4" stroke-width="1.25" fill="#040404"/>
<ellipse cx="789.20" cy="266.30" rx="2.60" ry="2.60" stroke="#dfe6e4" stroke-width="1.25" fill="#040404"/>
<ellipse cx="799.00" cy="265.90" rx="2.60" ry="2.60" stroke="#dfe6e4" stroke-width="1.25" fill="#040404"/>
<ellipse cx="779.40" cy="273.40" rx="2.60" ry="2.00" stroke="#dfe6e4" stroke-width="1.25" fill="#040404"/>
<ellipse cx="789.20" cy="272.90" rx="2.60" ry="2.00" stroke="#dfe6e4" stroke-width="1.25" fill="#040404"/>
<ellipse cx="799.00" cy="272.40" rx="2.60" ry="2.00" stroke="#dfe6e4" stroke-width="1.25" fill="#040404"/>
<clipPath id="elR"><path d="M895,249.1 A27.5,26.4 0 0 1 922.5,275.5 L922.5,274.8 L901.4,274.8 C900.4,271.2 897.9,268.9 894.9,268.7 Z"/></clipPath>
<path d="M895,249.1 A27.5,26.4 0 0 1 922.5,275.5 L922.5,274.8 L901.4,274.8 C900.4,271.2 897.9,268.9 894.9,268.7 Z" fill="#040404"/>
<g clip-path="url(#elR)">
<path d="M897,257 Q904,257 911,263 L916,274.8 L901.4,274.8 Q899,270 897,268.8 Z" fill="#dfe6e4" opacity="0.6"/>
<line x1="900.88" y1="271.22" x2="885.14" y2="232.28" stroke="#dfe6e4" stroke-width="1.35" />
<line x1="901.42" y1="271.06" x2="893.26" y2="229.86" stroke="#dfe6e4" stroke-width="1.35" />
<line x1="901.98" y1="271.00" x2="901.69" y2="229.00" stroke="#dfe6e4" stroke-width="1.35" />
<line x1="902.54" y1="271.05" x2="910.12" y2="229.74" stroke="#dfe6e4" stroke-width="1.35" />
<line x1="903.08" y1="271.20" x2="918.27" y2="232.05" stroke="#dfe6e4" stroke-width="1.35" />
<line x1="903.59" y1="271.46" x2="925.85" y2="235.84" stroke="#dfe6e4" stroke-width="1.35" />
<line x1="904.04" y1="271.80" x2="932.57" y2="240.98" stroke="#dfe6e4" stroke-width="1.35" />
<line x1="904.41" y1="272.22" x2="938.22" y2="247.30" stroke="#dfe6e4" stroke-width="1.35" />
<line x1="904.71" y1="272.70" x2="942.58" y2="254.56" stroke="#dfe6e4" stroke-width="1.35" />
<line x1="904.90" y1="273.23" x2="945.51" y2="262.50" stroke="#dfe6e4" stroke-width="1.35" />
<line x1="904.99" y1="273.79" x2="946.89" y2="270.86" stroke="#dfe6e4" stroke-width="1.35" />
<path d="M898,249.5 Q901,258 898.5,269" stroke="#dfe6e4" stroke-width="1.3" fill="none" stroke-linejoin="round" />
<path d="M901.5,250.2 Q904.5,259 902,270.5" stroke="#dfe6e4" stroke-width="1.3" fill="none" stroke-linejoin="round" />
</g>
<path d="M895,249.1 A27.5,26.4 0 0 1 922.5,275.5" stroke="#dfe6e4" stroke-width="1.7" fill="none" stroke-linejoin="round" />
<line x1="901.40" y1="274.80" x2="922.50" y2="274.40" stroke="#dfe6e4" stroke-width="1.4" />
<path d="M894.9,268.7 C897.9,268.9 900.4,271.2 901.4,274.8" stroke="#dfe6e4" stroke-width="1.7" fill="none" stroke-linejoin="round" />
<line x1="922.50" y1="275.50" x2="922.50" y2="278.30" stroke="#dfe6e4" stroke-width="1.7" />
<circle cx="891.40" cy="258.20" r="1.6" fill="#dfe6e4"/>
<rect x="875.30" y="278.30" width="57.10" height="11.50" rx="0" stroke="#dfe6e4" stroke-width="1.7" fill="none" />
<path d="M883.2,290 L883.2,284.3 Q883.2,281.3 886.2,281.3 L932.4,281.3" stroke="#dfe6e4" stroke-width="1.7" fill="none" stroke-linejoin="round" />
<ellipse cx="888.80" cy="284.40" rx="2.10" ry="1.40" stroke="#dfe6e4" stroke-width="1.1" fill="none"/>
<line x1="901.20" y1="274.80" x2="901.20" y2="286.50" stroke="#dfe6e4" stroke-width="1.7" />
<line x1="912.20" y1="272.00" x2="912.20" y2="283.00" stroke="#dfe6e4" stroke-width="1.7" />
<circle cx="912.20" cy="283.00" r="1.4" fill="#dfe6e4"/>
<line x1="924.60" y1="281.30" x2="924.60" y2="289.50" stroke="#dfe6e4" stroke-width="1.7" />
<path d="M843.8,482.3 L843.8,296 Q843.8,290.4 849.4,290.4 L958.5,290.4 Q964.2,290.4 964.2,296 L964.2,476.6 Q964.2,482.3 958.5,482.3 L849.4,482.3 Q843.8,482.3 843.8,476.6 Z" stroke="#dfe6e4" stroke-width="1.8" fill="#0f0f0f" stroke-linejoin="round" />
<rect x="890.20" y="457.20" width="27.00" height="14.30" rx="0" stroke="#dfe6e4" stroke-width="1.4" fill="none" />
<circle cx="873.60" cy="464.50" r="2.40" stroke="#dfe6e4" stroke-width="1.2" fill="none"/>
<circle cx="881.80" cy="464.50" r="2.40" stroke="#dfe6e4" stroke-width="1.2" fill="none"/>
<circle cx="925.40" cy="464.50" r="2.40" stroke="#dfe6e4" stroke-width="1.2" fill="none"/>
<circle cx="934.10" cy="464.50" r="2.40" stroke="#dfe6e4" stroke-width="1.2" fill="none"/>
<path d="M851,482.6 L852.2,494.5 L955.3,494.5 L956.5,482.6 Z" fill="#040404"/>
<path d="M851,482.6 L852.2,494.5 L955.3,494.5 L956.5,482.6" stroke="#dfe6e4" stroke-width="1.7" fill="none" stroke-linejoin="round" />
<path d="M859,484.2 L859,489 M865,484.2 L865,489 M858.6,490.6 L865.2,490.6 M862,487 L864,487" stroke="#dfe6e4" stroke-width="1.4" fill="none" stroke-linejoin="round" />
<path d="M884.6,485 Q882.6,488.5 885,491.5 L888,491.5 Q890.6,491 890.2,488.6 Q889.5,486.6 887.4,487.6" stroke="#dfe6e4" stroke-width="1.4" fill="none" stroke-linejoin="round" />
<path d="M893.6,491.2 L897,491.2 M900.2,485 Q901,490 902.8,491.2 Q904.6,489 905,485 M908,491.2 L912,491.2" stroke="#dfe6e4" stroke-width="1.4" fill="none" stroke-linejoin="round" />
<path d="M920,486.2 Q916.5,486.2 916.5,488.5 L918.5,489.5 Q916.5,491.2 920,491.2 M922.2,485.8 L928.4,485.8 L928.4,491 L922.2,491 Z" stroke="#dfe6e4" stroke-width="1.4" fill="none" stroke-linejoin="round" />
<path d="M944,485.5 L940.8,489 L944,492.5 M952,485.5 L955,489 L952,492.5 M945.5,485.5 L948,488.5 L950.5,485.5 M948,488.5 L948,493" stroke="#dfe6e4" stroke-width="1.4" fill="none" stroke-linejoin="round" />
<path d="M944.6,493.6 L944.6,497.6 L950.2,497.6 L950.2,493.6" stroke="#dfe6e4" stroke-width="1.4" fill="none" stroke-linejoin="round" />
<line x1="853.70" y1="202.70" x2="935.00" y2="202.70" stroke="#dfe6e4" stroke-width="1.4" />
<line x1="853.70" y1="202.70" x2="830.10" y2="244.20" stroke="#dfe6e4" stroke-width="1.4" />
<line x1="907.50" y1="232.70" x2="987.50" y2="232.70" stroke="#dfe6e4" stroke-width="1.4" />
<line x1="907.50" y1="232.70" x2="896.70" y2="248.60" stroke="#dfe6e4" stroke-width="1.4" />
<line x1="907.50" y1="232.70" x2="908.90" y2="250.40" stroke="#dfe6e4" stroke-width="1.4" />
<line x1="917.60" y1="257.40" x2="1057.80" y2="257.40" stroke="#dfe6e4" stroke-width="1.7" />
<line x1="932.40" y1="282.20" x2="1057.80" y2="282.20" stroke="#dfe6e4" stroke-width="1.7" />
<line x1="1048.50" y1="257.50" x2="1048.50" y2="421.80" stroke="#dfe6e4" stroke-width="1.7" />
<path d="M1048.50,258.00 L1051.10,265.00 L1045.90,265.00 Z" fill="#dfe6e4"/>
<path d="M1048.50,281.60 L1045.90,274.60 L1051.10,274.60 Z" fill="#dfe6e4"/>
<text x="0" y="0" font-size="16" letter-spacing="0" font-weight="400" fill="#e6e8e8" text-anchor="start" transform="translate(470.6,281) rotate(-90) scale(0.85,1)" stroke="#e6e8e8" stroke-width="0.4">Q</text>
<text x="471.3" y="210.3" font-size="19.5" letter-spacing="0.6" font-weight="400" fill="#e6e8e8" text-anchor="start" >ΦC</text>
<text x="0" y="0" font-size="16" letter-spacing="0" font-weight="400" fill="#e6e8e8" text-anchor="start" transform="translate(416.8,233.2) scale(0.95,1)" stroke="#e6e8e8" stroke-width="0.4">P</text>
<text x="0" y="0" font-size="18" letter-spacing="0" font-weight="400" fill="#e6e8e8" text-anchor="start" transform="translate(694.6,235.6) scale(0.76,1)" stroke="#e6e8e8" stroke-width="0.7">D</text>
<text x="0" y="0" transform="translate(140.22,206.65) scale(1.0500,1)" font-size="19.35" letter-spacing="1.21" fill="#e6e8e8" stroke="#e6e8e8" stroke-width="0.25">密封填料</text>
<text x="0" y="0" transform="translate(251.31,203.63) scale(1.0286,1)" font-size="18.92" letter-spacing="0.00" fill="#e6e8e8" stroke="#e6e8e8" stroke-width="0.25">墙</text>
<text x="0" y="0" transform="translate(154.62,248.53) scale(1.0500,1)" font-size="19.35" letter-spacing="1.48" fill="#e6e8e8" stroke="#e6e8e8" stroke-width="0.25">排烟管</text>
<text x="0" y="0" transform="translate(303.44,215.22) scale(1.0000,1)" font-size="16.88" letter-spacing="-0.58" fill="#e6e8e8" stroke="#e6e8e8" stroke-width="0.25">烟管安装孔</text>
<text x="0" y="0" transform="translate(324.96,261.96) scale(1.1200,1)" font-size="18.50" letter-spacing="-0.30" fill="#e6e8e8" stroke="#e6e8e8" stroke-width="0.25">弯头</text>
<text x="0" y="0" transform="translate(198.53,386.18) scale(1.0500,1)" font-size="19.25" letter-spacing="0.53" fill="#e6e8e8" stroke="#e6e8e8" stroke-width="0.25">室外</text>
<text x="0" y="0" transform="translate(345.51,386.12) scale(1.0500,1)" font-size="19.25" letter-spacing="1.39" fill="#e6e8e8" stroke="#e6e8e8" stroke-width="0.25">室内</text>
<text x="0" y="0" transform="translate(630.23,161.88) scale(1.0500,1)" font-size="19.46" letter-spacing="1.69" fill="#e6e8e8" stroke="#e6e8e8" stroke-width="0.25">热水器安装孔</text>
<text x="0" y="0" transform="translate(850.90,197.32) scale(1.0500,1)" font-size="19.52" letter-spacing="1.49" fill="#e6e8e8" stroke="#e6e8e8" stroke-width="0.25">密封填料</text>
<text x="0" y="0" transform="translate(906.08,226.13) scale(1.0000,1)" font-size="16.77" letter-spacing="-0.29" fill="#e6e8e8" stroke="#e6e8e8" stroke-width="0.25">烟管安装孔</text>
<text x="0" y="0" transform="translate(914.27,252.65) scale(1.1200,1)" font-size="18.72" letter-spacing="0.59" fill="#e6e8e8" stroke="#e6e8e8" stroke-width="0.25">弯头</text>
<text x="0" y="0" transform="translate(760.29,398.50) scale(1.0500,1)" font-size="19.25" letter-spacing="1.30" fill="#e6e8e8" stroke="#e6e8e8" stroke-width="0.25">室外</text>
<text x="0" y="0" transform="translate(971.98,397.83) scale(1.0500,1)" font-size="19.79" letter-spacing="1.16" fill="#e6e8e8" stroke="#e6e8e8" stroke-width="0.25">室内</text>
<text x="0" y="0" transform="translate(1041.29,419.68) rotate(-90) scale(1.0500,1)" font-size="17.11" letter-spacing="0.67" fill="#e6e8e8" stroke="#e6e8e8" stroke-width="0.25">以墙的距离而定</text>
<text x="0" y="0" transform="translate(231.75,549.95) scale(1.0000,1)" font-size="22.40" letter-spacing="2.99" fill="#e6e8e8" stroke="#e6e8e8" stroke-width="0.3">烟管背向安装</text>
<text x="0" y="0" transform="translate(731.28,548.39) scale(1.0000,1)" font-size="22.40" letter-spacing="3.35" fill="#e6e8e8" stroke="#e6e8e8" stroke-width="0.3">烟管侧向安装</text>
</svg>
<div class="foot"><span style="position:relative;top:-3px">*</span>图片及说明仅供参考，产品请以实物为准，最终解释权归浙江科恩电器有限公司所有</div>
</body></html>
